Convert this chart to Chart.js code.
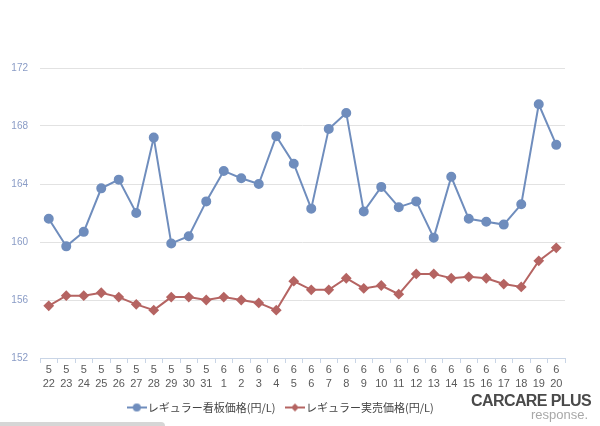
<!DOCTYPE html>
<html>
<head>
<meta charset="utf-8">
<script src="https://cdn.jsdelivr.net/npm/chart.js@4.4.1/dist/chart.umd.min.js"></script>
<style>
  html, body { margin: 0; padding: 0; background: #fff; }
  #wrap { position: relative; width: 600px; height: 426px; }
  #logo { position: absolute; left: 465px; top: 393px; width: 126px; text-align: right;
          font-family: "Liberation Sans", Arial, sans-serif; line-height: 1; }
  #logo .a { font-weight: bold; font-size: 16px; color: #4a4a4a; letter-spacing: -0.6px; }
  #logo .b { font-size: 13px; color: #a8a8a8; margin-top: -1px; margin-right: 3px; }
  #shadow { position: absolute; left: 0; top: 422px; width: 165px; height: 4px;
            background: #d6d6d6; border-top-right-radius: 4px; }
</style>
</head>
<body>
<div id="wrap">
  <canvas id="chart" width="600" height="426"></canvas>
  <div id="logo"><div class="a">CARCARE PLUS</div><div class="b">response.</div></div>
  <div id="shadow"></div>
</div>
<script>
// ガソリン価格の推移（5/22〜6/20）
const ctx = document.querySelector('#chart');

const labels = [
    ['5', '22'], ['5', '23'], ['5', '24'], ['5', '25'], ['5', '26'],
    ['5', '27'], ['5', '28'], ['5', '29'], ['5', '30'], ['5', '31'],
    ['6', '1'], ['6', '2'], ['6', '3'], ['6', '4'], ['6', '5'],
    ['6', '6'], ['6', '7'], ['6', '8'], ['6', '9'], ['6', '10'],
    ['6', '11'], ['6', '12'], ['6', '13'], ['6', '14'], ['6', '15'],
    ['6', '16'], ['6', '17'], ['6', '18'], ['6', '19'], ['6', '20']
];

// レギュラー看板価格
const signPrice = [
    161.6, 159.7, 160.7, 163.7, 164.3, 162.0, 167.2, 159.9, 160.4, 162.8,
    164.9, 164.4, 164.0, 167.3, 165.4, 162.3, 167.8, 168.9, 162.1, 163.8,
    162.4, 162.8, 160.3, 164.5, 161.6, 161.4, 161.2, 162.6, 169.5, 166.7
];

// レギュラー実売価格
const salePrice = [
    155.6, 156.3, 156.3, 156.5, 156.2, 155.7, 155.3, 156.2, 156.2, 156.0,
    156.2, 156.0, 155.8, 155.3, 157.3, 156.7, 156.7, 157.5, 156.8, 157.0,
    156.4, 157.8, 157.8, 157.5, 157.6, 157.5, 157.1, 156.9, 158.7, 159.6
];

const yTicks = [152, 156, 160, 164, 168, 172];

const blue = '#6f8dbd';
const red = '#b56462';

// 凡例用：線＋マーカーのアイコン
function legendIcon(color, diamond) {
    const c = document.createElement('canvas');
    c.width = 20;
    c.height = 10;
    const g = c.getContext('2d');
    g.strokeStyle = color;
    g.fillStyle = color;
    g.lineWidth = 2;
    g.beginPath();
    g.moveTo(0, 5);
    g.lineTo(20, 5);
    g.stroke();
    g.beginPath();
    if (diamond) {
        g.moveTo(10, 1); g.lineTo(14, 5); g.lineTo(10, 9); g.lineTo(6, 5);
    } else {
        g.arc(10, 5, 4, 0, Math.PI * 2);
    }
    g.closePath();
    g.fill();
    return c;
}
const icons = [legendIcon(blue, false), legendIcon(red, true)];

new Chart(ctx, {
    type: 'line',
    data: {
        labels: labels,
        datasets: [{
            label: 'レギュラー看板価格(円/L)',
            data: signPrice,
            borderColor: blue,
            backgroundColor: blue,
            borderWidth: 2,
            pointStyle: 'circle',
            pointRadius: 4,
            pointHoverRadius: 4,
            tension: 0
        }, {
            label: 'レギュラー実売価格(円/L)',
            data: salePrice,
            borderColor: red,
            backgroundColor: red,
            borderWidth: 2,
            pointStyle: 'rectRot',
            pointRadius: 4,
            pointHoverRadius: 4,
            tension: 0
        }]
    },
    options: {
        responsive: false,
        animation: false,
        layout: {
            padding: { left: 0, right: 35, top: 68, bottom: 3 }
        },
        scales: {
            y: {
                min: 152,
                max: 172,
                afterBuildTicks: function (scale) {
                    scale.ticks = yTicks.map(v => ({ value: v }));
                },
                afterFit: function (scale) {
                    scale.width = 40;
                },
                border: { display: false },
                grid: {
                    color: '#e2e2e2',
                    drawTicks: false
                },
                ticks: {
                    color: '#8a9cc6',
                    padding: 12,
                    font: { family: 'Liberation Sans', size: 10 }
                }
            },
            x: {
                offset: true,
                afterFit: function (scale) {
                    scale.height = 30;
                },
                border: { display: true, color: '#c9d5e6', width: 1 },
                grid: {
                    offset: true,
                    drawOnChartArea: false,
                    color: '#c9d5e6',
                    tickLength: 5
                },
                ticks: {
                    color: '#5a5a5a',
                    padding: 0,
                    maxRotation: 0,
                    autoSkip: false,
                    font: { family: 'Liberation Sans', size: 11, lineHeight: 1.3 }
                }
            }
        },
        plugins: {
            legend: {
                display: true,
                position: 'bottom',
                labels: {
                    usePointStyle: true,
                    color: '#444',
                    padding: 14,
                    font: { family: 'Noto Sans CJK JP', size: 11 },
                    generateLabels: function (chart) {
                        const items = Chart.defaults.plugins.legend.labels.generateLabels(chart);
                        items.forEach((it, i) => { it.pointStyle = icons[i]; });
                        return items;
                    }
                }
            },
            tooltip: { enabled: false }
        }
    }
});
</script>
</body>
</html>
